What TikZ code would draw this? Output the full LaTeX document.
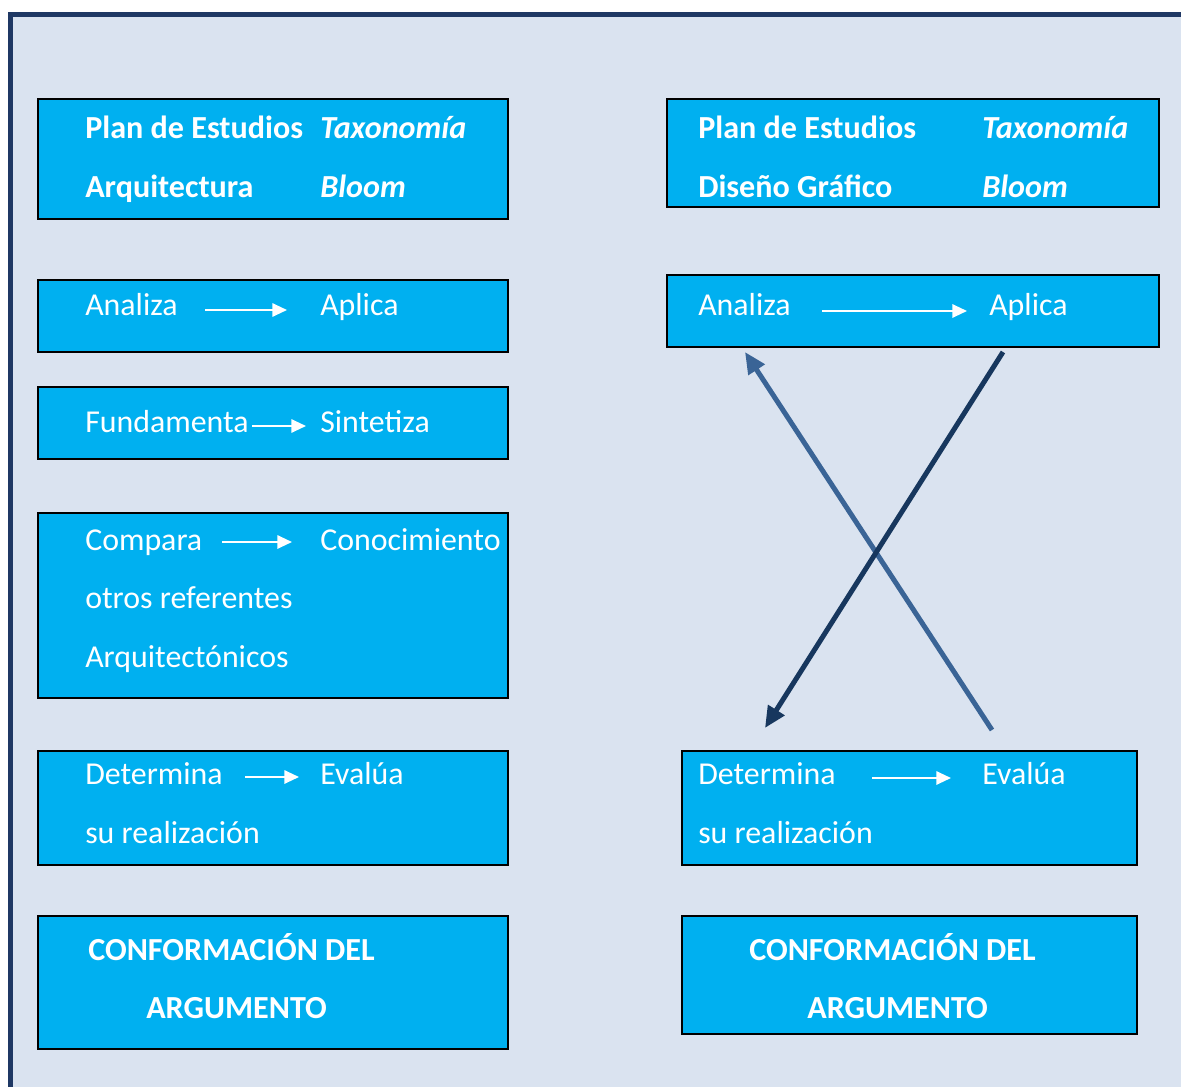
\documentclass[tikz,border=0pt]{standalone}
\usepackage{fontspec}
\setmainfont{Carlito}
\usetikzlibrary{arrows.meta,fit}

\definecolor{framebg}{HTML}{DAE3F0}
\definecolor{frameline}{HTML}{1F3864}
\definecolor{boxfill}{HTML}{00B0F0}
\definecolor{crossdark}{HTML}{17375E}
\definecolor{crosslight}{HTML}{3A6496}

\begin{document}
\begin{tikzpicture}[x=0.75pt,y=-0.75pt,
    box/.style={draw=black,line width=1.7pt,fill=boxfill,inner sep=0pt},
    txt/.style={anchor=base west,inner sep=0pt,text=white,font=\fontsize{23.9}{28}\selectfont},
    bold/.style={txt,font=\fontsize{24.1}{28}\selectfont\bfseries},
    boldit/.style={txt,font=\fontsize{24.1}{28}\selectfont\bfseries\itshape},
    flow/.style={white,line width=1.5pt,-{Triangle[length=11pt,width=10pt]}},
    cross/.style={line width=3.75pt,-{Triangle[length=16pt,width=14pt]}}]

            \useasboundingbox (0,0) rectangle (1181,1087);

            % frame:
            \fill[framebg] (10.5,14.5) rectangle (1181,1087);
            \draw[frameline,line width=3.75pt] (10.5,1087) -- (10.5,14.5) -- (1181,14.5);

            % left column
            \node[box,fit={(38,99) (508,219)}] (l1) {};
            \node[box,fit={(38,280) (508,352)}] (l2) {};
            \node[box,fit={(38,387) (508,459)}] (l3) {};
            \node[box,fit={(38,513) (508,698)}] (l4) {};
            \node[box,fit={(38,751) (508,865)}] (l5) {};
            \node[box,fit={(38,916) (508,1049)}] (l6) {};

            % right column
            \node[box,fit={(667,99) (1159,207)}] (r1) {};
            \node[box,fit={(667,275) (1159,347)}] (r2) {};
            \node[box,fit={(682,751) (1137,865)}] (r5) {};
            \node[box,fit={(682,916) (1137,1034)}] (r6) {};

            % texts left
            \node[bold] (lplan) at (85,139) {Plan de Estudios};
            \node[bold] (larq) at (85,198) {Arquitectura};
            \node[boldit] (ltax) at (320,139) {Taxonomía};
            \node[boldit] (lbloom) at (320,198) {Bloom};

            \node[txt] (lanaliza) at (85,316) {Analiza};
            \node[txt] (laplica) at (320,316) {Aplica};
            \node[txt] (lfund) at (85,432) {Fundamenta};
            \node[txt] (lsint) at (320,432) {Sintetiza};
            \node[txt] (lcomp) at (85,550) {Compara};
            \node[txt] (lcono) at (320,550) {Conocimiento};
            \node[txt] (lotros) at (85,608) {otros referentes};
            \node[txt] (larqt) at (85,667) {Arquitectónicos};
            \node[txt] (ldet) at (85,784) {Determina};
            \node[txt] (leval) at (320,784) {Evalúa};
            \node[txt] (lsu) at (85,843) {su realización};
            \node[bold] (lconf) at (88,960) {CONFORMACIÓN DEL};
            \node[bold] (larg) at (146,1018) {ARGUMENTO};

            % texts right
            \node[bold] (rplan) at (698,139) {Plan de Estudios};
            \node[bold] (rdis) at (698,198) {Diseño Gráfico};
            \node[boldit] (rtax) at (982,139) {Taxonomía};
            \node[boldit] (rbloom) at (982,198) {Bloom};

            \node[txt] (ranaliza) at (698,316) {Analiza};
            \node[txt] (raplica) at (989,316) {Aplica};
            \node[txt] (rdet) at (698,784) {Determina};
            \node[txt] (reval) at (982,784) {Evalúa};
            \node[txt] (rsu) at (698,843) {su realización};
            \node[bold] (rconf) at (749,960) {CONFORMACIÓN DEL};
            \node[bold] (rarg) at (807,1018) {ARGUMENTO};

            % white arrows
            \coordinate (a1s) at (205,310);  \coordinate (a1e) at (287,310);
            \coordinate (a2s) at (252,426);  \coordinate (a2e) at (306,426);
            \coordinate (a3s) at (222,542);  \coordinate (a3e) at (292,542);
            \coordinate (a4s) at (245,777);  \coordinate (a4e) at (299,777);
            \coordinate (a5s) at (822,311);  \coordinate (a5e) at (967,311);
            \coordinate (a6s) at (872,778);  \coordinate (a6e) at (951,778);
            \draw[flow] (a1s) -- (a1e);
            \draw[flow] (a2s) -- (a2e);
            \draw[flow] (a3s) -- (a3e);
            \draw[flow] (a4s) -- (a4e);
            \draw[flow] (a5s) -- (a5e);
            \draw[flow] (a6s) -- (a6e);

            %cross
            \coordinate (xup0) at (992,730);  \coordinate (xup1) at (745,352);
            \coordinate (xdn0) at (1003,352); \coordinate (xdn1) at (765,728);
            \draw[cross,crosslight] (xup0) -- (xup1);
            \draw[cross,crossdark] (xdn0) -- (xdn1);
        \end{tikzpicture}
\end{document}
